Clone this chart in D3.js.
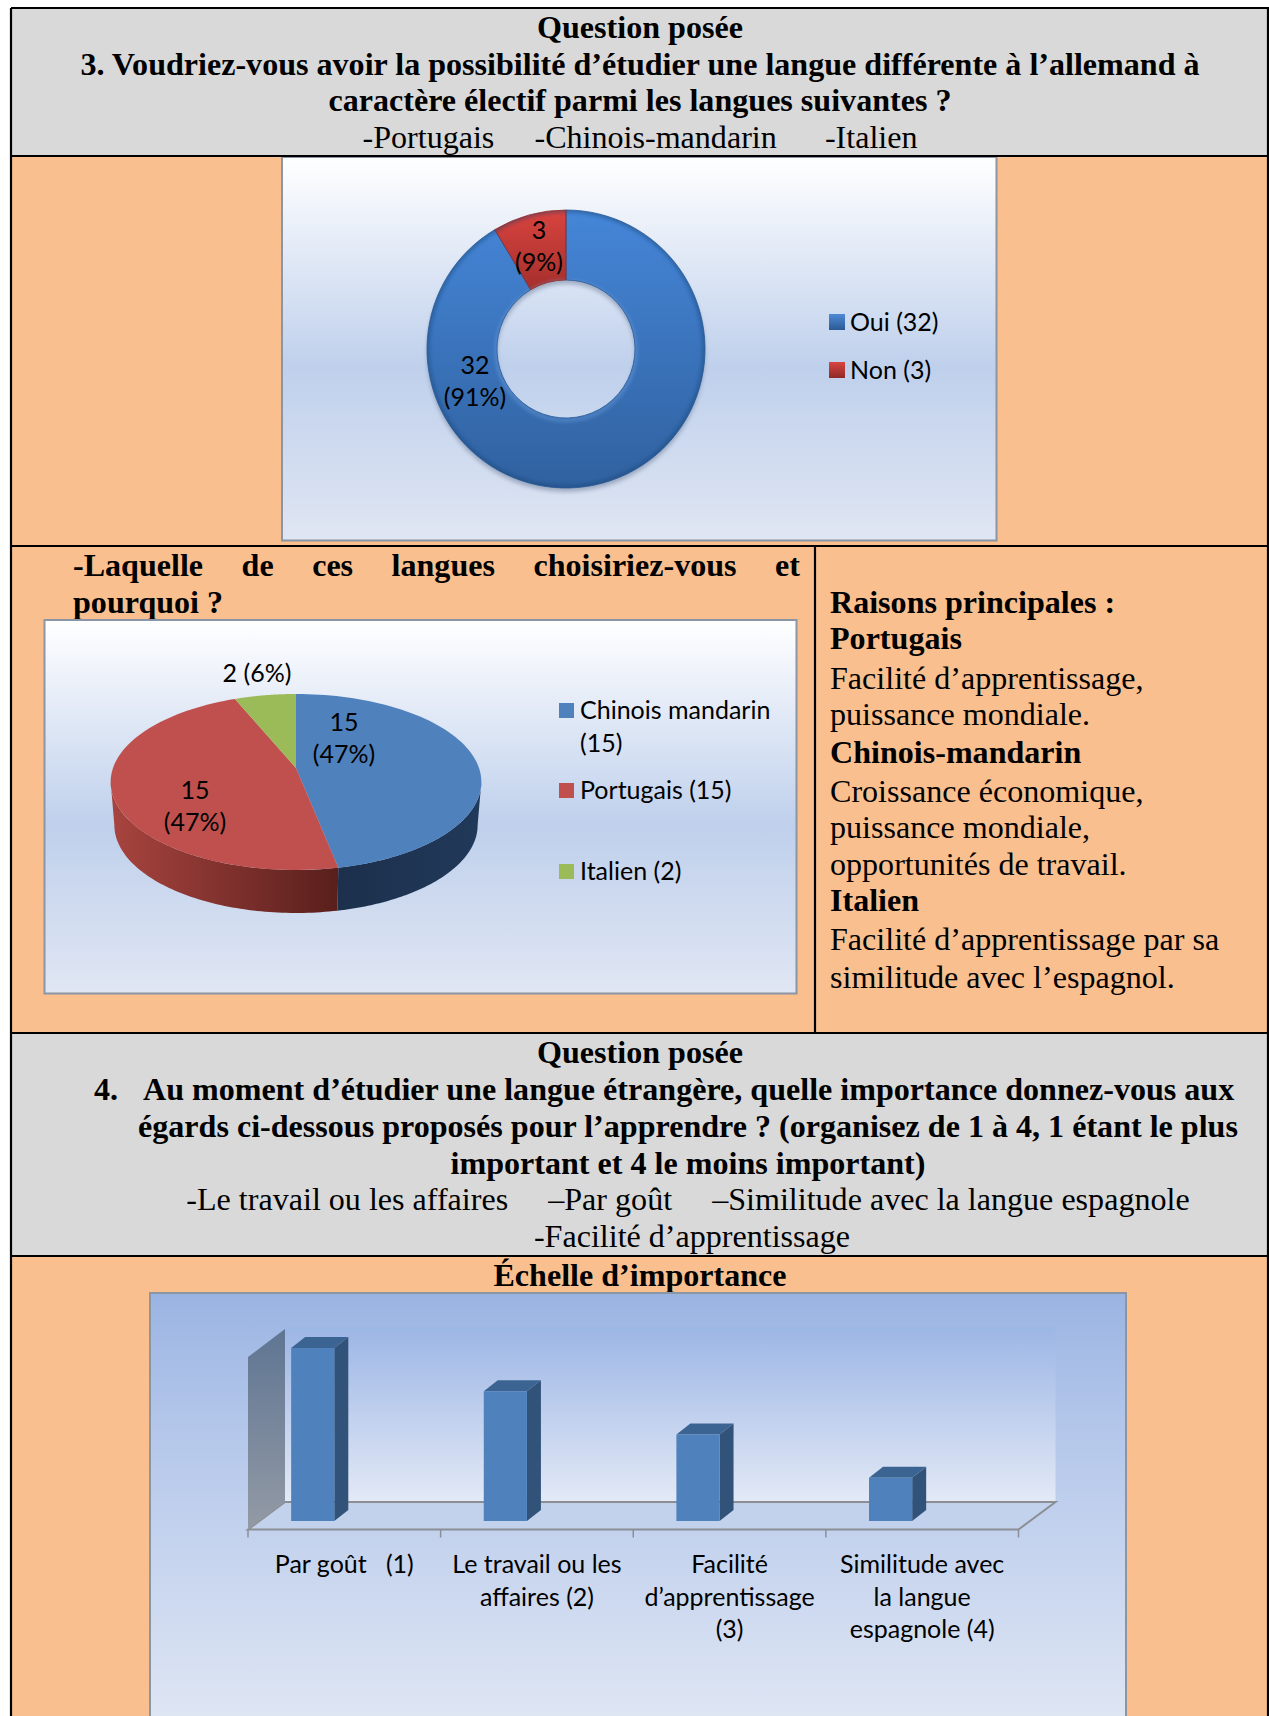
<!DOCTYPE html>
<html><head><meta charset="utf-8">
<script src="https://d3js.org/d3.v7.min.js"></script>
<style>html,body{margin:0;padding:0;background:#fff}svg{display:block}</style>
</head><body><svg id="c" width="1269" height="1716"></svg>
<script>
// --- data ---
const q3Labels = ["Oui (32)", "Non (3)"];
const q3Values = [32, 3];
const q3DataLabels = [["32", "(91%)"], ["3", "(9%)"]];
const langLegend = [["Chinois mandarin", "(15)"], ["Portugais (15)"], ["Italien (2)"]];
const langValues = [15, 15, 2];
const scaleCategories = [["Par goût   (1)"], ["Le travail ou les", "affaires (2)"], ["Facilité", "d’apprentissage", "(3)"], ["Similitude avec", "la langue", "espagnole (4)"]];
const scaleValues = [4, 3, 2, 1];

const SERIF = "'Liberation Serif','Times New Roman',serif", SANS = "Lato,'Open Sans',sans-serif";
const svg = d3.select("#c"), defs = svg.append("defs");
function grad(id, stops, x2=0, y2=1){
  const g = defs.append("linearGradient").attr("id",id).attr("x1",0).attr("y1",0).attr("x2",x2).attr("y2",y2);
  stops.forEach(s=>g.append("stop").attr("offset",s[0]).attr("stop-color",s[1]));
}
grad("bgA",[[0,"#ffffff"],[.55,"#bfd0ec"],[1,"#e0e6f3"]]);
grad("bgC",[[0,"#9ab4e2"],[.3,"#b3c6ea"],[1,"#e0e7f4"]]);
grad("wall",[[0,"#9cb6e5"],[1,"#e3e9f6"]]);
grad("lwall",[[0,"#5f7593"],[1,"#939aa5"]]);
grad("donutB",[[0,"#4586d8"],[1,"#30619f"]]);
grad("donutR",[[0,"#d8443f"],[1,"#a52f2c"]]);
grad("sideR",[[0,"#a8443f"],[1,"#591f1c"]],1,0);
grad("sideB",[[0,"#1c304c"],[1,"#21395a"]],1,0);
grad("legB",[[0,"#4e8ad4"],[1,"#2c5a94"]]);
grad("legR",[[0,"#d8453f"],[1,"#8f2a28"]]);
const f1 = defs.append("filter").attr("id","blur3").attr("x","-20%").attr("y","-20%").attr("width","140%").attr("height","140%");
f1.append("feGaussianBlur").attr("stdDeviation",2.2);

// --- table background ---
const PEACH="#f9bf8f", GREY="#d9d9d9", BW=2.2;
const L=11, R=1269, rows=[8,156,546,1033,1256,1716];
[GREY,PEACH,PEACH,GREY,PEACH].forEach((c,i)=>svg.append("rect").attr("x",L).attr("y",rows[i]).attr("width",R-L).attr("height",rows[i+1]-rows[i]).attr("fill",c));
function panel(x0,y0,x1,y1,fill){
  svg.append("rect").attr("x",x0).attr("y",y0).attr("width",x1-x0).attr("height",y1-y0).attr("fill",fill).attr("stroke","#8b95a3").attr("stroke-width",2);
}
function tline(x1,y1,x2,y2){svg.append("line").attr("x1",x1).attr("y1",y1).attr("x2",x2).attr("y2",y2).attr("stroke","#000").attr("stroke-width",BW);}

// --- text helper ---
const FS=32.1, CS=25;
function txt(s,x,y,o={}){
  const t=svg.append("text").attr("x",x).attr("y",y+1).text(s)
    .attr("font-family",o.font||SERIF).attr("font-size",o.size||FS).attr("fill","#000")
    .attr("font-weight",o.bold?700:400).attr("text-anchor",o.anchor||"start").style("white-space","pre");
  return t;
}
function just(s,x0,x1,y,o){
  const t=txt(s,x0,y,o); const w=t.node().getComputedTextLength();
  t.attr("word-spacing",(x1-x0-w)/(s.trim().split(/\s+/).length-1)); return t;
}
const CX=640;
txt("Question posée",CX,37,{bold:1,anchor:"middle"});
txt("3. Voudriez-vous avoir la possibilité d’étudier une langue différente à l’allemand à",CX,74,{bold:1,anchor:"middle"});
txt("caractère électif parmi les langues suivantes ?",CX,110,{bold:1,anchor:"middle"});
txt("-Portugais     -Chinois-mandarin      -Italien",CX,147,{anchor:"middle"});

// --- chart 1: doughnut ---
panel(282,157,996.5,540.5,"url(#bgA)");
const dC=[566,349], dO=139, dI=69;
const g1=svg.append("g").attr("transform",`translate(${dC})`);
const pie1=d3.pie().sort(null).value(d=>d).startAngle(0).endAngle(2*Math.PI);
const arcs1=pie1(q3Values);
const arc1=d3.arc().innerRadius(dI).outerRadius(dO);
const ringD=d3.arc().innerRadius(dI).outerRadius(dO).startAngle(0).endAngle(2*Math.PI)();
g1.append("path").attr("d",ringD).attr("transform","translate(0,4)").attr("fill","#4a5a78").attr("opacity",.4).attr("filter","url(#blur3)");
g1.selectAll("path.s").data(arcs1).join("path").attr("class","s").attr("d",arc1)
  .attr("fill",(d,i)=>i?"url(#donutR)":"url(#donutB)");
// bevel
defs.append("clipPath").attr("id","dclip").append("path").attr("d",ringD);
const bev=g1.append("g").attr("clip-path","url(#dclip)");
bev.append("circle").attr("r",dO).attr("fill","none").attr("stroke","#17406f").attr("stroke-width",3).attr("opacity",.7).attr("filter","url(#blur3)");
bev.append("circle").attr("r",dI).attr("cy",2).attr("fill","none").attr("stroke","#7fb0ea").attr("stroke-width",3).attr("opacity",.55).attr("filter","url(#blur3)");
g1.selectAll("path.e").data(arcs1).join("path").attr("class","e").attr("d",arc1).attr("fill","none").attr("stroke",(d,i)=>i?"#8d2f2c":"#2a5a96").attr("stroke-width",.8);
[[475,373],[539,238]].forEach((p,i)=>q3DataLabels[i].forEach((s,j)=>txt(s,p[0],p[1]+j*32,{font:SANS,size:CS,anchor:"middle"})));
// legend
const leg1Y=d3.scalePoint().domain(q3Labels).range([322,370]);
q3Labels.forEach((s,i)=>{
  const y=leg1Y(s);
  svg.append("rect").attr("x",829).attr("y",y-8).attr("width",16).attr("height",16).attr("fill",i?"url(#legR)":"url(#legB)");
  txt(s,850,y+8,{font:SANS,size:CS});
});

// --- chart 2: 3D pie ---
tline(815,546,815,1033);
just("-Laquelle de ces langues choisiriez-vous et",73,800,575,{bold:1});
txt("pourquoi ?",73,612,{bold:1});
panel(44.5,620,796.5,993.5,"url(#bgA)");
const pC=[296,782], pDepth=43, kP=.159;
function proj(th,scaleX=1,dy=0){ // th clockwise from top on a unit disc seen in perspective
  const u=Math.sin(th), v=Math.cos(th), den=1+kP*v;
  return [pC[0]+scaleX*183*u/den, pC[1]+dy-(88*v+14)/den];
}
const apex=[pC[0],pC[1]-14];
const arcs2=d3.pie().sort(null).value(d=>d).startAngle(0).endAngle(2*Math.PI)(langValues);
const line=d3.line();
const sweep=(a,b,n=80)=>d3.range(n+1).map(i=>a+(b-a)*i/n);
const pColors=["#4f81bd","#c0504d","#9bbb59"];
const widest=Math.asin(kP);
const rightmost=Math.PI/2+widest, leftmost=Math.PI*1.5-widest;
// side walls
const walls=[[rightmost,arcs2[0].endAngle,"url(#sideB)"],[arcs2[1].startAngle,leftmost,"url(#sideR)"]];
walls.forEach(w=>{
  const a=sweep(w[0],w[1]);
  const pts=a.map(t=>proj(t)).concat(a.slice().reverse().map(t=>proj(t,.98,pDepth)));
  svg.append("path").attr("d",line(pts)+"Z").attr("fill",w[2]);
});
arcs2.forEach((d,i)=>{
  const pts=[apex].concat(sweep(d.startAngle,d.endAngle).map(t=>proj(t)));
  svg.append("path").attr("d",line(pts)+"Z").attr("fill",pColors[i]);
});
txt("15",344,730,{font:SANS,size:CS,anchor:"middle"});
txt("(47%)",344,762,{font:SANS,size:CS,anchor:"middle"});
txt("15",195,798,{font:SANS,size:CS,anchor:"middle"});
txt("(47%)",195,830,{font:SANS,size:CS,anchor:"middle"});
txt("2 (6%)",257,681,{font:SANS,size:CS,anchor:"middle"});
// legend
const legY=[710,790,871];
langLegend.forEach((ls,i)=>{
  svg.append("rect").attr("x",559).attr("y",legY[i]-7).attr("width",15).attr("height",15).attr("fill",pColors[i]);
  ls.forEach((s,j)=>txt(s,580,legY[i]+8+j*33,{font:SANS,size:CS}));
});

// --- right-hand cell ---
const rightLines=[["Raisons principales :",1,612],["Portugais",1,648],["Facilité d’apprentissage,",0,688],["puissance mondiale.",0,724],["Chinois-mandarin",1,762],["Croissance économique,",0,801],["puissance mondiale,",0,837],["opportunités de travail.",0,874],["Italien",1,910],["Facilité d’apprentissage par sa",0,949],["similitude avec l’espagnol.",0,987]];
rightLines.forEach(l=>txt(l[0],830,l[2],{bold:l[1]}));

// --- question 4 ---
txt("Question posée",CX,1062,{bold:1,anchor:"middle"});
txt("4.",94,1099,{bold:1});
txt("Au moment d’étudier une langue étrangère, quelle importance donnez-vous aux",143,1099,{bold:1});
txt("égards ci-dessous proposés pour l’apprendre ? (organisez de 1 à 4, 1 étant le plus",138,1136,{bold:1});
txt("important et 4 le moins important)",688,1173,{bold:1,anchor:"middle"});
txt("-Le travail ou les affaires     –Par goût     –Similitude avec la langue espagnole",688,1209,{anchor:"middle"});
txt("-Facilité d’apprentissage",692,1246,{anchor:"middle"});
txt("Échelle d’importance",CX,1285,{bold:1,anchor:"middle"});

// --- chart 3: 3D columns ---
panel(150,1293,1126,1730,"url(#bgC)");
const x=d3.scaleBand().domain(d3.range(scaleValues.length)).range([248,1018.5]);
const y=d3.scaleLinear().domain([0,4]).range([1521,1348]);
const dx=37, dy=27.5, baseY=1529.5;
const x0=x.range()[0], x1=x.range()[1];
const wallTop=1327;
svg.append("rect").attr("x",x0+dx).attr("y",wallTop).attr("width",x1-x0).attr("height",baseY-dy-wallTop).attr("fill","url(#wall)");
svg.append("path").attr("d",line([[x0,baseY],[x0+dx,baseY-dy],[x1+dx,baseY-dy],[x1,baseY]])+"Z").attr("fill","#c2d1ec").attr("stroke","#8b8f94").attr("stroke-width",2);
svg.append("path").attr("d",line([[x0,baseY],[x0+dx,baseY-dy],[x0+dx,wallTop+2],[x0,1357]])+"Z").attr("fill","url(#lwall)");
x.domain().concat(4).forEach(i=>{
  const px=i<4?x(i):x1;
  svg.append("line").attr("x1",px).attr("x2",px).attr("y1",baseY).attr("y2",baseY+8).attr("stroke","#8b8f94").attr("stroke-width",1.5);
});
const bw=x.bandwidth()*.224, off=x.bandwidth()*.224, bdx=14, bdy=11;
scaleValues.forEach((v,i)=>{
  const bx=x(i)+off, ty=y(v), by=y(0);
  svg.append("path").attr("d",line([[bx+bw,by],[bx+bw+bdx,by-bdy],[bx+bw+bdx,ty-bdy],[bx+bw,ty]])+"Z").attr("fill","#315379");
  svg.append("path").attr("d",line([[bx,ty],[bx+bdx,ty-bdy],[bx+bw+bdx,ty-bdy],[bx+bw,ty]])+"Z").attr("fill","#3c6493");
  svg.append("rect").attr("x",bx).attr("y",ty).attr("width",bw).attr("height",by-ty).attr("fill","#4f81bd");
  scaleCategories[i].forEach((s,j)=>txt(s,x(i)+x.bandwidth()/2,1572+j*32.5,{font:SANS,size:CS,anchor:"middle"}));
});

// --- table rules ---
rows.slice(0,5).forEach(r=>tline(L,r,R,r));
tline(L,8,L,1716);
tline(1268,8,1268,1716);
</script></body></html>
